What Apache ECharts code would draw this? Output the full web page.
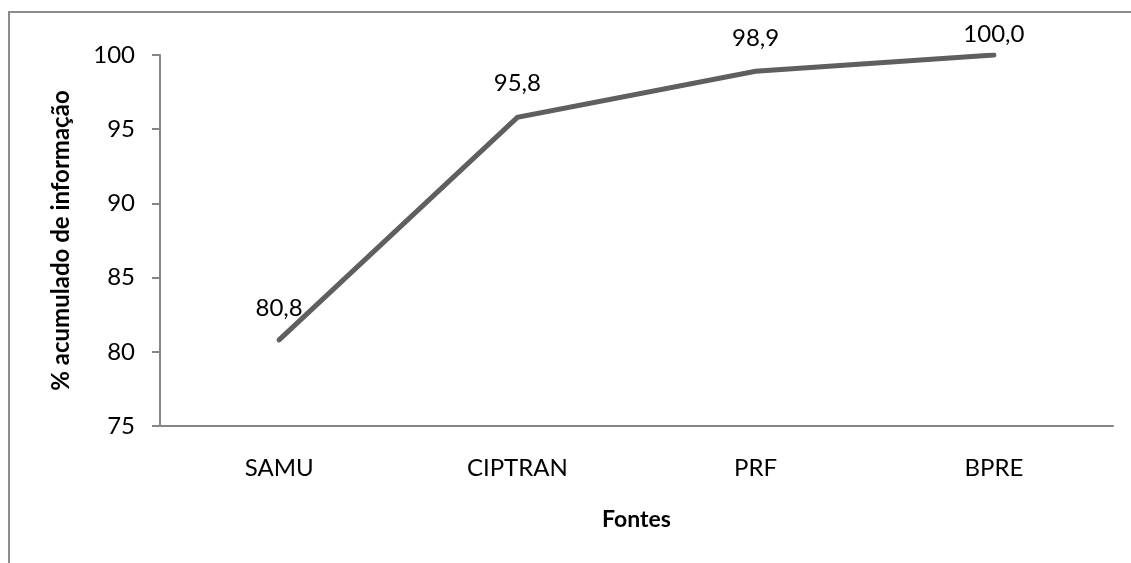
<!DOCTYPE html>
<html>
<head>
<meta charset="utf-8">
<script src="https://cdn.jsdelivr.net/npm/echarts@6/dist/echarts.min.js"></script>
<style>
html,body{margin:0;padding:0;background:#fff;}
#c{width:1131px;height:563px;}
</style>
</head>
<body>
<div id="c"></div>
<script>
const categories = ['SAMU', 'CIPTRAN', 'PRF', 'BPRE'];
const values = [80.8, 95.8, 98.9, 100.0];
const yTicks = [75, 80, 85, 90, 95, 100];
const labelDistances = [19, 21, 20, 8];

const FONT = 'Lato';
const FS = 24;
const chart = echarts.init(document.getElementById('c'), null, {renderer: 'canvas'});
chart.setOption({
  backgroundColor: '#fff',
  animation: false,
  graphic: [{
    type: 'rect',
    shape: {x: 9, y: 12, width: 1200, height: 700},
    style: {fill: 'none', stroke: '#8c8c8c', lineWidth: 2},
    silent: true
  }],
  grid: {left: 160, right: 18, top: 55, bottom: 137},
  xAxis: {
    type: 'category',
    data: categories,
    boundaryGap: true,
    name: 'Fontes',
    nameLocation: 'middle',
    nameGap: 82,
    nameTextStyle: {fontFamily: FONT, fontSize: FS - 1, fontWeight: 'bold', color: '#000'},
    axisLine: {lineStyle: {color: '#868686', width: 2}},
    axisTick: {show: false},
    axisLabel: {fontFamily: FONT, fontSize: FS, color: '#000', margin: 30}
  },
  yAxis: {
    type: 'value',
    min: yTicks[0],
    max: yTicks[yTicks.length - 1],
    interval: 5,
    name: '% acumulado de informação',
    nameLocation: 'middle',
    nameRotate: 90,
    nameGap: 87,
    nameTextStyle: {fontFamily: FONT, fontSize: FS, fontWeight: 'bold', color: '#000'},
    axisLine: {show: true, lineStyle: {color: '#868686', width: 2}},
    axisTick: {show: true, length: 8, lineStyle: {color: '#868686', width: 2}},
    splitLine: {show: false},
    axisLabel: {fontFamily: FONT, fontSize: FS, color: '#000', margin: 25}
  },
  series: [{
    type: 'line',
    data: values.map((v, i) => ({value: v, label: {show: true, distance: labelDistances[i]}})),
    symbol: 'circle',
    symbolSize: 2,
    showSymbol: true,
    itemStyle: {color: 'rgba(95,95,95,0)', borderWidth: 0},
    lineStyle: {color: '#5f5f5f', width: 5, cap: 'round', join: 'miter'},
    label: {
      show: true,
      position: 'top',
      fontFamily: FONT,
      fontSize: FS,
      color: '#000',
      formatter: p => p.value.toFixed(1).replace('.', ',')
    },
    labelLayout: {hideOverlap: false}
  }]
});
</script>
</body>
</html>
